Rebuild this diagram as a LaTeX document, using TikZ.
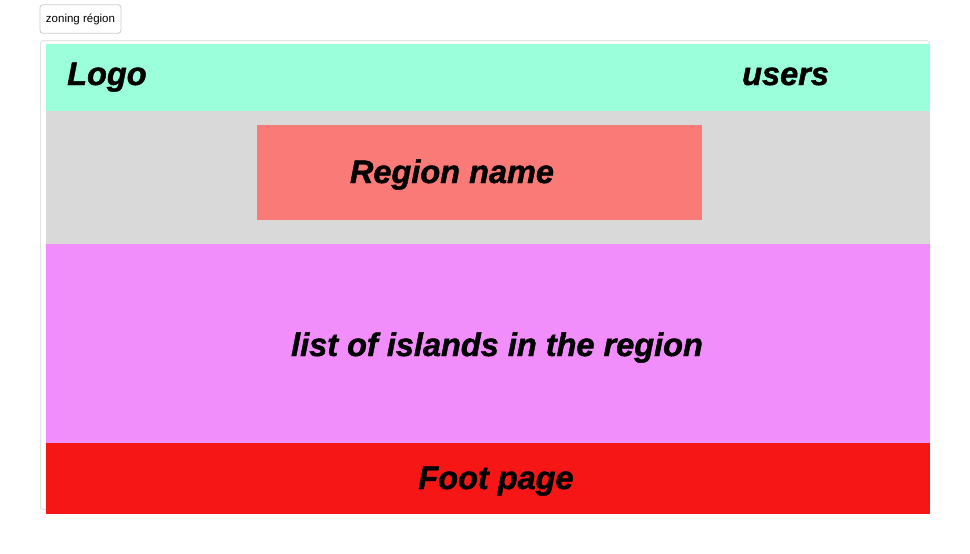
\documentclass[tikz,border=0pt]{standalone}
\usepackage{fontspec}
\setmainfont{Liberation Sans}
\newfontfamily\zonefont{Liberation Sans}[BoldItalicFeatures={FakeBold=1.3}]

\definecolor{headgreen}{HTML}{9CFFDC}
\definecolor{titlegray}{HTML}{D9D9D9}
\definecolor{namesalmon}{HTML}{FA7A78}
\definecolor{listpink}{HTML}{F18EFB}
\definecolor{footred}{HTML}{F61616}
\definecolor{framegray}{HTML}{E3E3E3}
\definecolor{buttongray}{HTML}{CCCCCC}

\begin{document}
\begin{tikzpicture}[x=1pt, y=-1pt,
    zone/.style={font=\zonefont\bfseries\itshape\fontsize{32.5}{36}\selectfont, inner sep=0pt, black},
    button/.style={draw=buttongray, rounded corners=3pt, line width=0.8pt, fill=white,
        font=\fontsize{11.5}{13}\selectfont, inner sep=0pt, minimum width=81pt, minimum height=28.5pt}]
    \useasboundingbox (0,0) rectangle (970,554);

    % page frame
    \draw[framegray, line width=1pt, rounded corners=3pt] (40.5,40.5) rectangle (929.5,509.5);

    % zones
    \fill[headgreen] (46,44) rectangle (930,111);
    \fill[titlegray] (46,111) rectangle (930,244);
    \fill[namesalmon] (257,125) rectangle (702,220);
    \fill[listpink] (46,244) rectangle (930,443);
    \fill[footred] (46,443) rectangle (930,514);

    \node[button] (zoning) at (80.5,19) {zoning région};

    \node[zone, anchor=base west] (logo) at (67,85) {Logo};
    \node[zone, anchor=base west] (users) at (742,85) {users};
    \node[zone, anchor=base] (regionName) at (452,183) {Region name};
    \node[zone, anchor=base] (islands) at (497,356) {list of islands in the region};
    \node[zone, anchor=base] (footPage) at (496,489) {Foot page};

\end{tikzpicture}
\end{document}
